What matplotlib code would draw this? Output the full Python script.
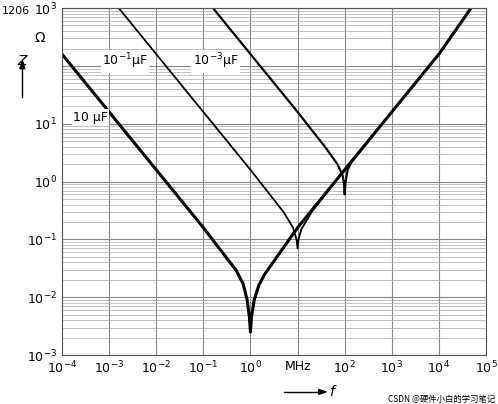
import matplotlib
matplotlib.use("Agg")
import matplotlib.pyplot as plt
from matplotlib.ticker import NullLocator

f_10u = [1e-4, 1e-3, 1e-2, 1e-1, 0.5, 0.7, 0.85, 0.95, 1.0, 1.05, 1.2, 1.5, 2, 10, 100, 1e3, 1e4, 4.8e4]
z_10u = [160, 16, 1.6, 0.16, 0.029, 0.017, 0.009, 0.0045, 0.0025, 0.0045, 0.009, 0.016, 0.025, 0.16, 1.6, 16, 160, 1000]
f_100n = [1.6e-3, 1e-2, 1e-1, 1, 5, 8, 9.5, 10, 10.5, 12, 20, 100]
z_100n = [1000, 160, 16, 1.6, 0.3, 0.16, 0.1, 0.07, 0.1, 0.15, 0.3, 1.6]
f_1n = [0.16, 1, 10, 40, 70, 90, 97, 100, 103, 115, 140, 300]
z_1n = [1000, 160, 16, 3.8, 2.0, 1.3, 0.9, 0.6, 0.9, 1.6, 2.2, 4.8]

xticks = [1e-4, 1e-3, 1e-2, 1e-1, 1e0, 1e1, 1e2, 1e3, 1e4, 1e5]
xlabels = [r"$10^{-4}$", r"$10^{-3}$", r"$10^{-2}$", r"$10^{-1}$", r"$10^{0}$", "MHz",
           r"$10^{2}$", r"$10^{3}$", r"$10^{4}$", r"$10^{5}$"]
yticks = [1e-3, 1e-2, 1e-1, 1e0, 1e1, 1e2, 1e3]
ylabels = [r"$10^{-3}$", r"$10^{-2}$", r"$10^{-1}$", r"$10^{0}$", r"$10^{1}$", "", r"$10^{3}$"]

fig = plt.figure(figsize=(4.98, 4.04), dpi=100)
ax = fig.add_axes([0.1245, 0.121, 0.8515, 0.859])
ax.set_xscale("log"); ax.set_yscale("log")
ax.set_xlim(1e-4, 1e5); ax.set_ylim(1e-3, 1e3)
ax.xaxis.set_minor_locator(NullLocator())
ax.grid(True, which="major", color="#888", lw=0.8)
ax.grid(True, which="minor", axis="y", color="#aaa", lw=0.5)
ax.plot(f_10u, z_10u, color="black", lw=2.2)
ax.plot(f_100n, z_100n, color="black", lw=1.3)
ax.plot(f_1n, z_1n, color="black", lw=1.6)
ax.set_xticks(xticks); ax.set_xticklabels(xlabels)
ax.set_yticks(yticks); ax.set_yticklabels(ylabels)
ax.tick_params(which="both", length=0, labelsize=9)
for s in ax.spines.values():
    s.set_color("#555")
bb = dict(facecolor="white", edgecolor="none", pad=1)
ax.text(2.2e-3, 120, r"$10^{-1}$µF", fontsize=9, ha="center", va="center", bbox=bb)
ax.text(0.18, 120, r"$10^{-3}$µF", fontsize=9, ha="center", va="center", bbox=bb)
ax.text(4e-4, 13, "10 µF", fontsize=9, ha="center", va="center", bbox=bb)
fig.text(0.003, 0.965, "1206", fontsize=8)
fig.text(0.07, 0.895, "Ω", fontsize=10)
fig.text(0.035, 0.84, "Z", fontsize=10, style="italic")
fig.add_artist(plt.Line2D([0.045, 0.045], [0.76, 0.83], color="black", lw=1))
fig.add_artist(plt.Polygon([[0.04, 0.83], [0.05, 0.83], [0.045, 0.85]], color="black"))
fig.text(0.66, 0.02, "f", fontsize=10, style="italic")
fig.add_artist(plt.Line2D([0.57, 0.64], [0.03, 0.03], color="black", lw=1))
fig.add_artist(plt.Polygon([[0.64, 0.024], [0.64, 0.036], [0.655, 0.03]], color="black"))
fig.text(0.995, 0.005, "CSDN @硬件小白的学习笔记", fontsize=6, ha="right",
         family=["Noto Sans CJK SC", "DejaVu Sans"])
fig.savefig("out.png", dpi=100)
